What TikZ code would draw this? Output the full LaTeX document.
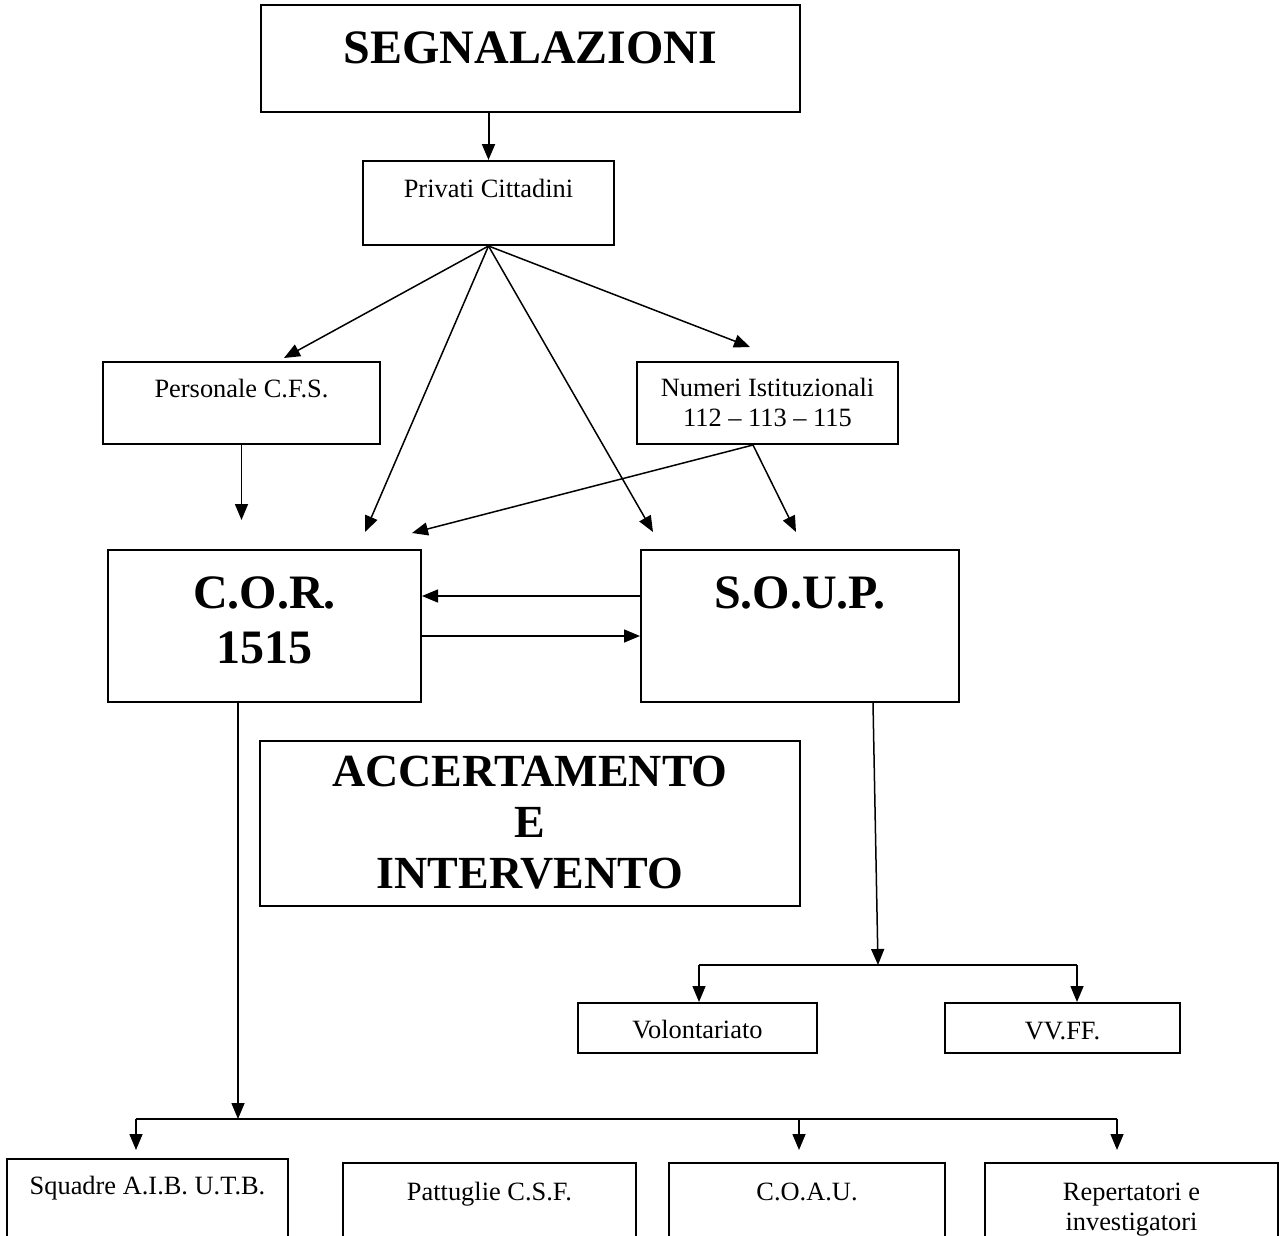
\documentclass[tikz,border=0pt]{standalone}
\usepackage{fontspec}
\setmainfont{Liberation Serif}
\usetikzlibrary{arrows.meta, calc}

\newcommand{\boxtext}{\fontsize{13.2}{14.8}\selectfont}
\newcommand{\boxtitle}{\fontsize{24}{27.5}\selectfont\bfseries}
\newcommand{\boxlines}[1]{\begin{tabular}[b]{@{}c@{}}#1\end{tabular}}

\begin{document}
\begin{tikzpicture}[
    x=0.5pt, y=-0.5pt,
    box/.style n args={3}{
        draw, line width=1pt, inner sep=0pt, anchor=north,
        minimum width=#1, text height=#2, text depth=#3
    },
    smalltxt/.style={font=\boxtext},
    bigtxt/.style={font=\boxtitle},
    arr/.style={-{Triangle[length=8pt,width=6.5pt]}, line width=0.75pt},
    bus/.style={line width=1pt}
]

\useasboundingbox (0,0) rectangle (1279,1236);
\clip (0,0) rectangle (1279,1236);

% segnalazioni
\node[box={269.5pt}{29.5pt}{24pt}, bigtxt] (seg) at (530.5,4) {SEGNALAZIONI};
\node[box={125.5pt}{18.5pt}{23.5pt}, smalltxt] (priv) at (488.5,160) {Privati Cittadini};
\node[box={138.5pt}{17.5pt}{23.5pt}, smalltxt] (pers) at (241.5,361) {Personale C.F.S.};
\node[box={130.5pt}{32pt}{9pt}, smalltxt] (num) at (767.5,361) {\boxlines{Numeri Istituzionali\\112 -- 113 -- 115}};

% sale operative
\node[box={156.5pt}{56.5pt}{19.5pt}, bigtxt] (cor) at (264.5,549) {\boxlines{C.O.R.\\1515}};
\node[box={159pt}{29pt}{47pt}, bigtxt] (soup) at (800,549) {S.O.U.P.};
\node[box={270pt}{73.5pt}{9pt}, font={\fontsize{23}{25.5}\selectfont\bfseries}] (acc) at (530,740) {\boxlines{ACCERTAMENTO\\E\\INTERVENTO}};

% intervento
\node[box={119.5pt}{17.5pt}{7.5pt}, smalltxt] (vol) at (697.5,1002) {Volontariato};
\node[box={117.5pt}{18pt}{7pt}, smalltxt] (vvff) at (1062.5,1002) {VV.FF.};
\node[box={140.5pt}{17.5pt}{53.5pt}, smalltxt] (squ) at (147.5,1158) {Squadre A.I.B. U.T.B.};
\node[box={146.5pt}{18.5pt}{50.5pt}, smalltxt] (pat) at (489.5,1162) {Pattuglie C.S.F.};
\node[box={138pt}{18.5pt}{50.5pt}, smalltxt] (coau) at (807,1162) {C.O.A.U.};
\node[box={146.5pt}{33.5pt}{35.5pt}, smalltxt] (rep) at (1131.5,1162) {\boxlines{Repertatori e\\investigatori}};

\coordinate (numout) at ($(num.south)+(-14.5,0)$);
\coordinate (corin) at (238,1119);
\coordinate (busL) at (136,1119);
\coordinate (busC) at (799,1119);
\coordinate (busR) at (1117,1119);
\coordinate (soupin) at (878,965);
\coordinate (subL) at (699,965);
\coordinate (subR) at (1077,965);

\draw[arr, line width=1pt] (seg.south -| priv.north) -- (priv.north);
\draw[arr] (priv.south) -- ($(pers.north)+(42.5,-3)$);
\draw[arr] (priv.south) -- ($(cor.north)+(100.5,-17)$);
\draw[arr] (priv.south) -- ($(soup.north west)+(13,-17)$);
\draw[arr] (priv.south) -- ($(num.north)+(-17.5,-14)$);
\draw[arr] (numout) -- ($(cor.north east)+(-10,-16)$);
\draw[arr] (numout) -- ($(soup.north)+(-4,-17)$);
\draw[arr] (pers.south) -- ($(pers.south)+(0,75)$);

\draw[arr] ([yshift=15pt]soup.west) -- ([yshift=15pt]cor.east);
\draw[arr] ([yshift=-5pt]cor.east) -- ([yshift=-5pt]soup.west);

\draw[arr] ([xshift=-13.25pt]cor.south) -- (corin);
\draw[bus] (busL) -- (busR);
\draw[arr, shorten >=4pt] (busL) -- (busL |- squ.north);
\draw[arr, shorten >=6pt] (busC) -- (busC |- coau.north);
\draw[arr, shorten >=6pt] (busR) -- (busR |- rep.north);

\draw[arr] ([xshift=36.5pt]soup.south) -- (soupin);
\draw[bus] (subL) -- (subR);
\draw[arr] (subL) -- (subL |- vol.north);
\draw[arr] (subR) -- (subR |- vvff.north);

\end{tikzpicture}
\end{document}
